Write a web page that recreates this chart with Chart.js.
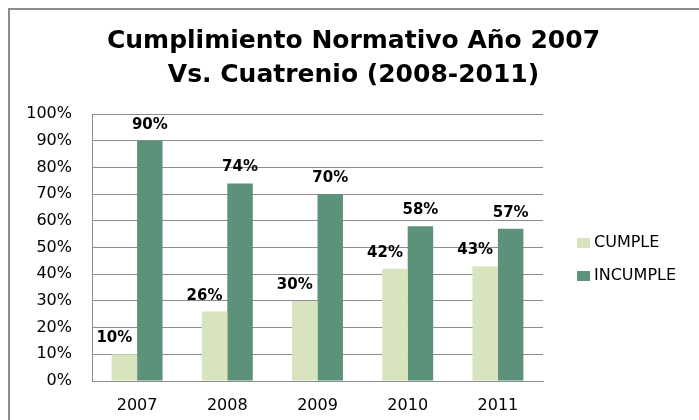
<!DOCTYPE html>
<html>
<head>
<meta charset="utf-8">
<script src="https://cdn.jsdelivr.net/npm/chart.js@4"></script>
<style>
  html, body { margin: 0; padding: 0; background: #fff; }
  #wrap { width: 699px; height: 420px; position: relative; }
</style>
</head>
<body>
<div id="wrap"><canvas id="bar" width="699" height="420"></canvas></div>
<script>
const years = ['2007', '2008', '2009', '2010', '2011'];
const cumple = [10, 26, 30, 42, 43];
const incumple = [90, 74, 70, 58, 57];
const yTicks = [0, 10, 20, 30, 40, 50, 60, 70, 80, 90, 100];

const FONT = '"DejaVu Sans", sans-serif';

// frame, value labels and legend drawn after the bars
const extras = {
  id: 'extras',
  afterDraw(chart) {
    const ctx = chart.ctx;
    ctx.save();
    // outer frame (top + left edge of the pasted chart)
    ctx.strokeStyle = '#8c8c8c';
    ctx.lineWidth = 2;
    ctx.beginPath();
    ctx.moveTo(9, 420);
    ctx.lineTo(9, 9);
    ctx.lineTo(699, 9);
    ctx.stroke();

    // value labels
    ctx.fillStyle = '#000';
    ctx.font = 'bold 15px ' + FONT;
    ctx.textAlign = 'center';
    ctx.textBaseline = 'alphabetic';
    chart.data.datasets.forEach((ds, i) => {
      const meta = chart.getDatasetMeta(i);
      meta.data.forEach((bar, j) => {
        const shift = i === 0 ? -10 : 0;
        ctx.fillText(ds.data[j] + '%', bar.x + shift, bar.y - 12);
      });
    });

    // legend
    ctx.font = '16px ' + FONT;
    ctx.textAlign = 'left';
    ctx.textBaseline = 'middle';
    chart.data.datasets.forEach((ds, i) => {
      const y = 243 + i * 33;
      ctx.fillStyle = ds.backgroundColor;
      ctx.fillRect(577, y - 5, 13, 10);
      ctx.fillStyle = '#000';
      ctx.fillText(ds.label, 594, y);
    });
    ctx.restore();
  }
};

const barConfig = {
  type: 'bar',
  data: {
    labels: years,
    datasets: [
      { label: 'CUMPLE', data: cumple, backgroundColor: '#d7e4bd' },
      { label: 'INCUMPLE', data: incumple, backgroundColor: '#5b9279' }
    ]
  },
  options: {
    responsive: false,
    animation: false,
    devicePixelRatio: 1,
    categoryPercentage: 0.565,
    barPercentage: 1,
    layout: { padding: { left: 8, right: 0, top: 24, bottom: 5 } },
    plugins: {
      legend: { display: false },
      tooltip: { enabled: false },
      title: {
        display: true,
        text: ['Cumplimiento Normativo Año 2007', 'Vs. Cuatrenio (2008-2011)'],
        color: '#000',
        font: { family: FONT, size: 25, weight: 'bold', lineHeight: 1.38 },
        padding: { top: 0, bottom: 21 }
      }
    },
    scales: {
      x: {
        afterFit(scale) { scale.height = 34; },
        grid: { display: false, drawTicks: false },
        border: { display: true, color: '#8c8c8c' },
        ticks: { color: '#000', font: { family: FONT, size: 16 }, padding: 15 }
      },
      y: {
        min: 0,
        max: 100,
        afterFit(scale) { scale.width = 84; },
        afterBuildTicks(scale) { scale.ticks = yTicks.map(v => ({ value: v })); },
        grid: { color: '#8c8c8c', drawTicks: false },
        border: { display: true, color: '#8c8c8c' },
        ticks: {
          color: '#000',
          font: { family: FONT, size: 16 },
          padding: 20,
          callback: v => v + '%'
        }
      },
      // empty right-hand space that holds the legend column
      legendSpace: {
        type: 'linear',
        position: 'right',
        afterFit(scale) { scale.width = 156; },
        grid: { display: false, drawTicks: false },
        border: { display: false },
        ticks: { display: false }
      }
    }
  },
  plugins: [extras]
};

const barCtx = document.getElementById('bar');
window.myBar = new Chart(barCtx, barConfig);
</script>
</body>
</html>
